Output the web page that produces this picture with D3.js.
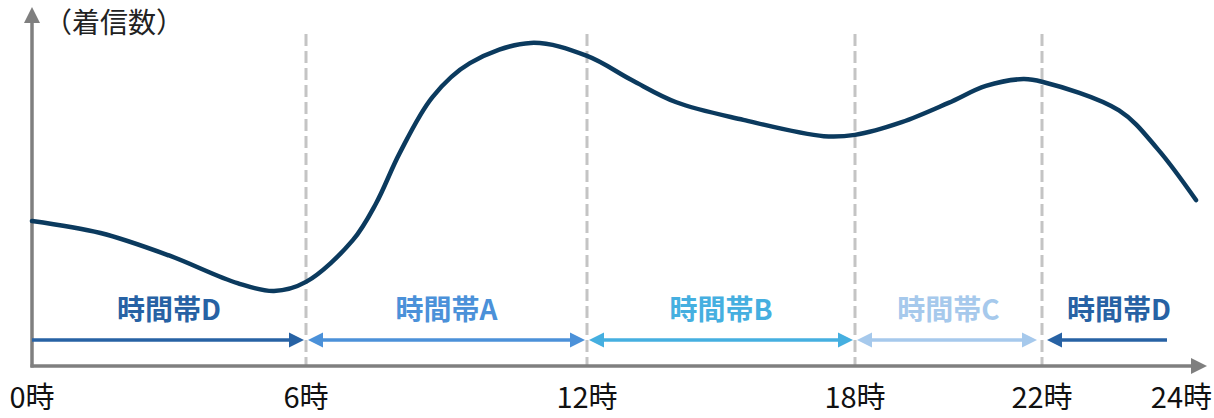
<!DOCTYPE html>
<html>
<head>
<meta charset="utf-8">
<script src="https://cdn.jsdelivr.net/npm/d3@7"></script>
<style>
  body { margin: 0; background: #fff; }
  svg { display: block; font-family: "Noto Sans CJK JP", "Noto Sans", sans-serif; }
</style>
</head>
<body>
<svg width="1214" height="418"></svg>
<script>
// hours of day and call volume
const hours = [0, 1.5, 3, 4.5, 5.3, 6, 7, 7.5, 8, 8.7, 9.5, 10.8, 12, 13, 14, 15.5, 17.3, 18,
  19, 20, 20.8, 21.6, 22, 23, 23.5, 24];
const calls = [44.5, 40.8, 33.9, 25.4, 23.0, 25.8, 38.6, 50.0, 65.3, 82.5, 92.9, 99.1, 95.1, 87.7, 80.9, 75.5, 70.5, 70.9,
  74.8, 80.7, 85.9, 88.0, 87.2, 78.4, 66.6, 50.9];

const tickHours = [0, 6, 12, 18, 22, 24];
const tickLabels = ['0時', '6時', '12時', '18時', '22時', '24時'];
const dividerHours = [6, 12, 18, 22];

const bandNames = ['時間帯D', '時間帯A', '時間帯B', '時間帯C', '時間帯D'];
const bandStart = [0, 6, 12, 18, 22];
const bandEnd = [6, 12, 18, 22, 24];
const bandColors = ['#2762a4', '#4b91d9', '#45afe0', '#a6c9ec', '#2762a4'];
const bandHeads = ['end', 'both', 'both', 'both', 'start'];

const W = 1214, H = 418;
const svg = d3.select('svg');

// the hour axis in the picture is not evenly spaced, so map each tick hour to its spot
const x = d3.scaleLinear().domain(tickHours).range([32, 306, 587, 855, 1042, 1196]);
const y = d3.scaleLinear().domain([0, 100]).range([366, 40]);
const axisY = y(0);

const gray = '#7f7f7f';

// dashed dividers
svg.selectAll('line.div').data(dividerHours).enter().append('line')
    .attr('class', 'div')
    .attr('x1', d => x(d)).attr('x2', d => x(d))
    .attr('y1', 34).attr('y2', axisY)
    .attr('stroke', '#c4c4c4').attr('stroke-width', 3)
    .attr('stroke-dasharray', '12,5');

// axes with arrow tips
svg.append('line').attr('x1', x(0)).attr('x2', x(0)).attr('y1', axisY + 1.5).attr('y2', 20)
    .attr('stroke', gray).attr('stroke-width', 3.5);
svg.append('path').attr('d', `M${x(0)},7 L${x(0) + 8},23 L${x(0) - 8},23 Z`).attr('fill', gray);
svg.append('line').attr('x1', x(0) - 1.5).attr('x2', 1194).attr('y1', axisY).attr('y2', axisY)
    .attr('stroke', gray).attr('stroke-width', 3.5);
svg.append('path').attr('d', `M1207,${axisY} L1191,${axisY - 8} L1191,${axisY + 8} Z`).attr('fill', gray);

// y title
svg.append('text').attr('x', 44).attr('y', 33)
    .attr('font-size', 28).attr('fill', '#222')
    .text('（着信数）');

// hour labels
svg.selectAll('text.tick').data(tickHours).enter().append('text')
    .attr('class', 'tick')
    .attr('y', 408)
    .attr('font-size', 29).attr('fill', '#111')
    .attr('text-anchor', 'middle')
    .text((d, i) => tickLabels[i])
    .attr('x', function(d) {
        const half = this.getComputedTextLength() / 2;
        return Math.max(half + 6, Math.min(x(d), W - 2 - half));
    });

// curve
const line = d3.line()
    .x((d, i) => x(hours[i]))
    .y(d => y(d))
    .curve(d3.curveCatmullRom.alpha(0.5));
svg.append('path').datum(calls)
    .attr('d', line)
    .attr('fill', 'none')
    .attr('stroke', '#0b3a5e')
    .attr('stroke-width', 4.5)
    .attr('stroke-linecap', 'round');

// time band arrows
const arrowY = 340;
const headLen = 15, headHalf = 7.5;
const pad = h => (h === 22 ? 5 : (h === 0 ? 0 : 2));

bandNames.forEach((name, i) => {
    const color = bandColors[i];
    const heads = bandHeads[i];
    const x0 = x(bandStart[i]) + pad(bandStart[i]);
    let x1 = x(bandEnd[i]) - pad(bandEnd[i]);
    if (bandEnd[i] === 24) x1 -= 27; // last arrow tail stops short of the axis end

    const lx0 = (heads === 'start' || heads === 'both') ? x0 + headLen - 1 : x0;
    const lx1 = (heads === 'end' || heads === 'both') ? x1 - headLen + 1 : x1;
    svg.append('line').attr('x1', lx0).attr('x2', lx1).attr('y1', arrowY).attr('y2', arrowY)
        .attr('stroke', color).attr('stroke-width', 3.5);
    if (heads === 'start' || heads === 'both') {
        svg.append('path')
            .attr('d', `M${x0},${arrowY} L${x0 + headLen},${arrowY - headHalf} L${x0 + headLen},${arrowY + headHalf} Z`)
            .attr('fill', color);
    }
    if (heads === 'end' || heads === 'both') {
        svg.append('path')
            .attr('d', `M${x1},${arrowY} L${x1 - headLen},${arrowY - headHalf} L${x1 - headLen},${arrowY + headHalf} Z`)
            .attr('fill', color);
    }

    svg.append('text')
        .attr('x', (x(bandStart[i]) + x(bandEnd[i])) / 2)
        .attr('y', 320)
        .attr('text-anchor', 'middle')
        .attr('font-size', 28).attr('font-weight', 'bold')
        .attr('fill', color)
        .text(name);
});
</script>
</body>
</html>
